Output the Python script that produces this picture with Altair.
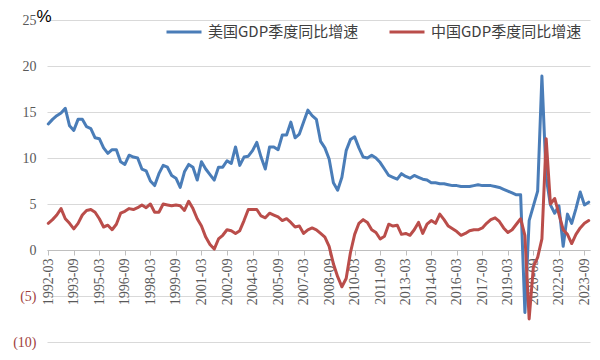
import altair as alt
import pandas as pd

# Quarter categories (1992Q1 .. 2023Q4), labelled by quarter-end month
quarters = [f"{y}-{m:02d}" for y in range(1992, 2024) for m in (3, 6, 9, 12)]
tick_labels = quarters[::6]

series_names = ["美国GDP季度同比增速", "中国GDP季度同比增速"]
series_colors = ["#4A7DB8", "#BA4D4A"]

blue_values = [
    13.7, 14.2, 14.6, 14.9, 15.4, 13.5, 13.0, 14.2, 14.2, 13.4,
    13.2, 12.2, 12.1, 11.1, 10.5, 10.9, 10.9, 9.6, 9.3, 10.3,
    10.1, 10.0, 8.8, 8.6, 7.5, 7.0, 8.3, 9.2, 9.0, 8.1,
    7.8, 6.8, 8.5, 9.3, 9.0, 7.6, 9.6, 8.8, 8.2, 7.6,
    9.0, 9.0, 9.7, 9.4, 11.2, 9.2, 10.1, 10.2, 10.8, 11.7,
    10.1, 8.8, 11.2, 11.2, 10.9, 12.5, 12.5, 13.9, 12.2, 12.6,
    13.9, 15.2, 14.6, 14.2, 11.8, 11.1, 9.9, 7.3, 6.5, 7.9,
    10.8, 12.0, 12.3, 11.1, 10.1, 10.0, 10.3, 10.0, 9.5, 8.8,
    8.1, 7.9, 7.7, 8.3, 8.0, 7.8, 8.1, 7.9, 7.7, 7.6,
    7.3, 7.3, 7.2, 7.2, 7.1, 7.0, 7.0, 6.9, 6.9, 6.9,
    7.0, 7.1, 7.0, 7.0, 7.0, 6.9, 6.8, 6.6, 6.4, 6.2,
    6.0, 6.0, -6.8, 3.2, 4.8, 6.4, 18.9, 7.9, 4.9, 4.0,
    4.8, 0.4, 3.9, 2.9, 4.5, 6.3, 4.9, 5.2,
]

red_values = [
    2.9, 3.3, 3.8, 4.5, 3.4, 2.9, 2.3, 2.9, 3.8, 4.3,
    4.4, 4.1, 3.4, 2.5, 2.7, 2.2, 2.8, 4.0, 4.2, 4.5,
    4.4, 4.6, 4.9, 4.6, 5.0, 4.1, 4.1, 5.0, 4.9, 4.8,
    4.9, 4.8, 4.3, 5.3, 4.5, 3.4, 2.6, 1.4, 0.6, 0.1,
    1.2, 1.6, 2.2, 2.1, 1.8, 2.1, 3.2, 4.4, 4.4, 4.4,
    3.7, 3.5, 4.0, 3.8, 3.6, 3.2, 3.4, 3.0, 2.5, 2.6,
    1.8, 2.2, 2.4, 2.2, 1.8, 1.4, 0.4, -1.5, -2.9, -4.0,
    -3.1, -0.3, 1.7, 2.9, 3.3, 3.0, 2.2, 1.9, 1.2, 1.5,
    2.8, 2.6, 2.7, 1.7, 1.8, 1.6, 2.2, 3.0, 1.8, 2.8,
    3.2, 2.9, 3.9, 3.3, 2.6, 2.3, 2.0, 1.6, 1.8, 2.1,
    2.2, 2.2, 2.4, 2.9, 3.3, 3.5, 3.1, 2.4, 1.9, 2.2,
    2.8, 3.4, 1.6, -7.5, -1.8, -0.8, 1.2, 12.1, 5.0, 5.6,
    3.9, 2.2, 1.7, 0.7, 1.7, 2.4, 2.9, 3.2,
]

y_ticks = [-10, -5, 0, 5, 10, 15, 20, 25]

rows = []
for name, vals in zip(series_names, [blue_values, red_values]):
    for i, (q, v) in enumerate(zip(quarters, vals)):
        rows.append({"quarter": q, "series": name, "value": v, "order": i})
df = pd.DataFrame(rows)

chart = (
    alt.Chart(df)
    .mark_line(strokeWidth=3, strokeJoin="round", strokeCap="round")
    .encode(
        x=alt.X(
            "quarter:N",
            sort=quarters,
            scale=alt.Scale(type="point", padding=0.3),
            axis=alt.Axis(
                values=tick_labels,
                title=None,
                labelAngle=-90,
                labelAlign="right",
                labelBaseline="middle",
                labelFont="Liberation Serif",
                labelFontSize=14,
                labelColor="#595959",
                labelPadding=3,
                tickSize=5,
                tickColor="#BFBFBF",
                domainColor="#BFBFBF",
                grid=False,
                offset=-92,
                labelOverlap=False,
            ),
        ),
        y=alt.Y(
            "value:Q",
            scale=alt.Scale(domain=[-10, 25], nice=False, zero=False),
            axis=alt.Axis(
                values=y_ticks,
                title="%",
                titleAngle=0,
                titleX=-11,
                titleY=1,
                titleAlign="left",
                titleBaseline="alphabetic",
                titleFont="Liberation Sans",
                titleFontSize=17,
                titleFontWeight="normal",
                titleColor="#000000",
                labelExpr="datum.value < 0 ? '(' + abs(datum.value) + ')' : '' + datum.value",
                labelFont="Liberation Serif",
                labelFontSize=14,
                labelColor={"condition": {"test": "datum.value < 0", "value": "#A0403D"}, "value": "#595959"},
                labelPadding=11,
                domain=False,
                ticks=False,
                grid=True,
                gridColor="#D9D9D9",
                gridWidth=1,
            ),
        ),
        color=alt.Color(
            "series:N",
            scale=alt.Scale(domain=series_names, range=series_colors),
            legend=alt.Legend(
                title=None,
                orient="none",
                legendX=118,
                legendY=-7,
                direction="horizontal",
                symbolType="stroke",
                symbolSize=1225,
                symbolStrokeWidth=3,
                labelFont="Noto Sans CJK SC",
                labelFontSize=15,
                labelColor="#404040",
                labelOffset=5,
                columnPadding=24,
            ),
        ),
        order="order:Q",
    )
    .properties(
        width=543,
        height=322,
        autosize=alt.AutoSizeParams(type="none"),
        padding={"left": 39, "top": 12, "right": 2, "bottom": 8},
        background="#FFFFFF",
    )
    .configure_view(strokeWidth=0)
)

chart.save("out.html", embed_options={"renderer": "svg", "actions": False})
